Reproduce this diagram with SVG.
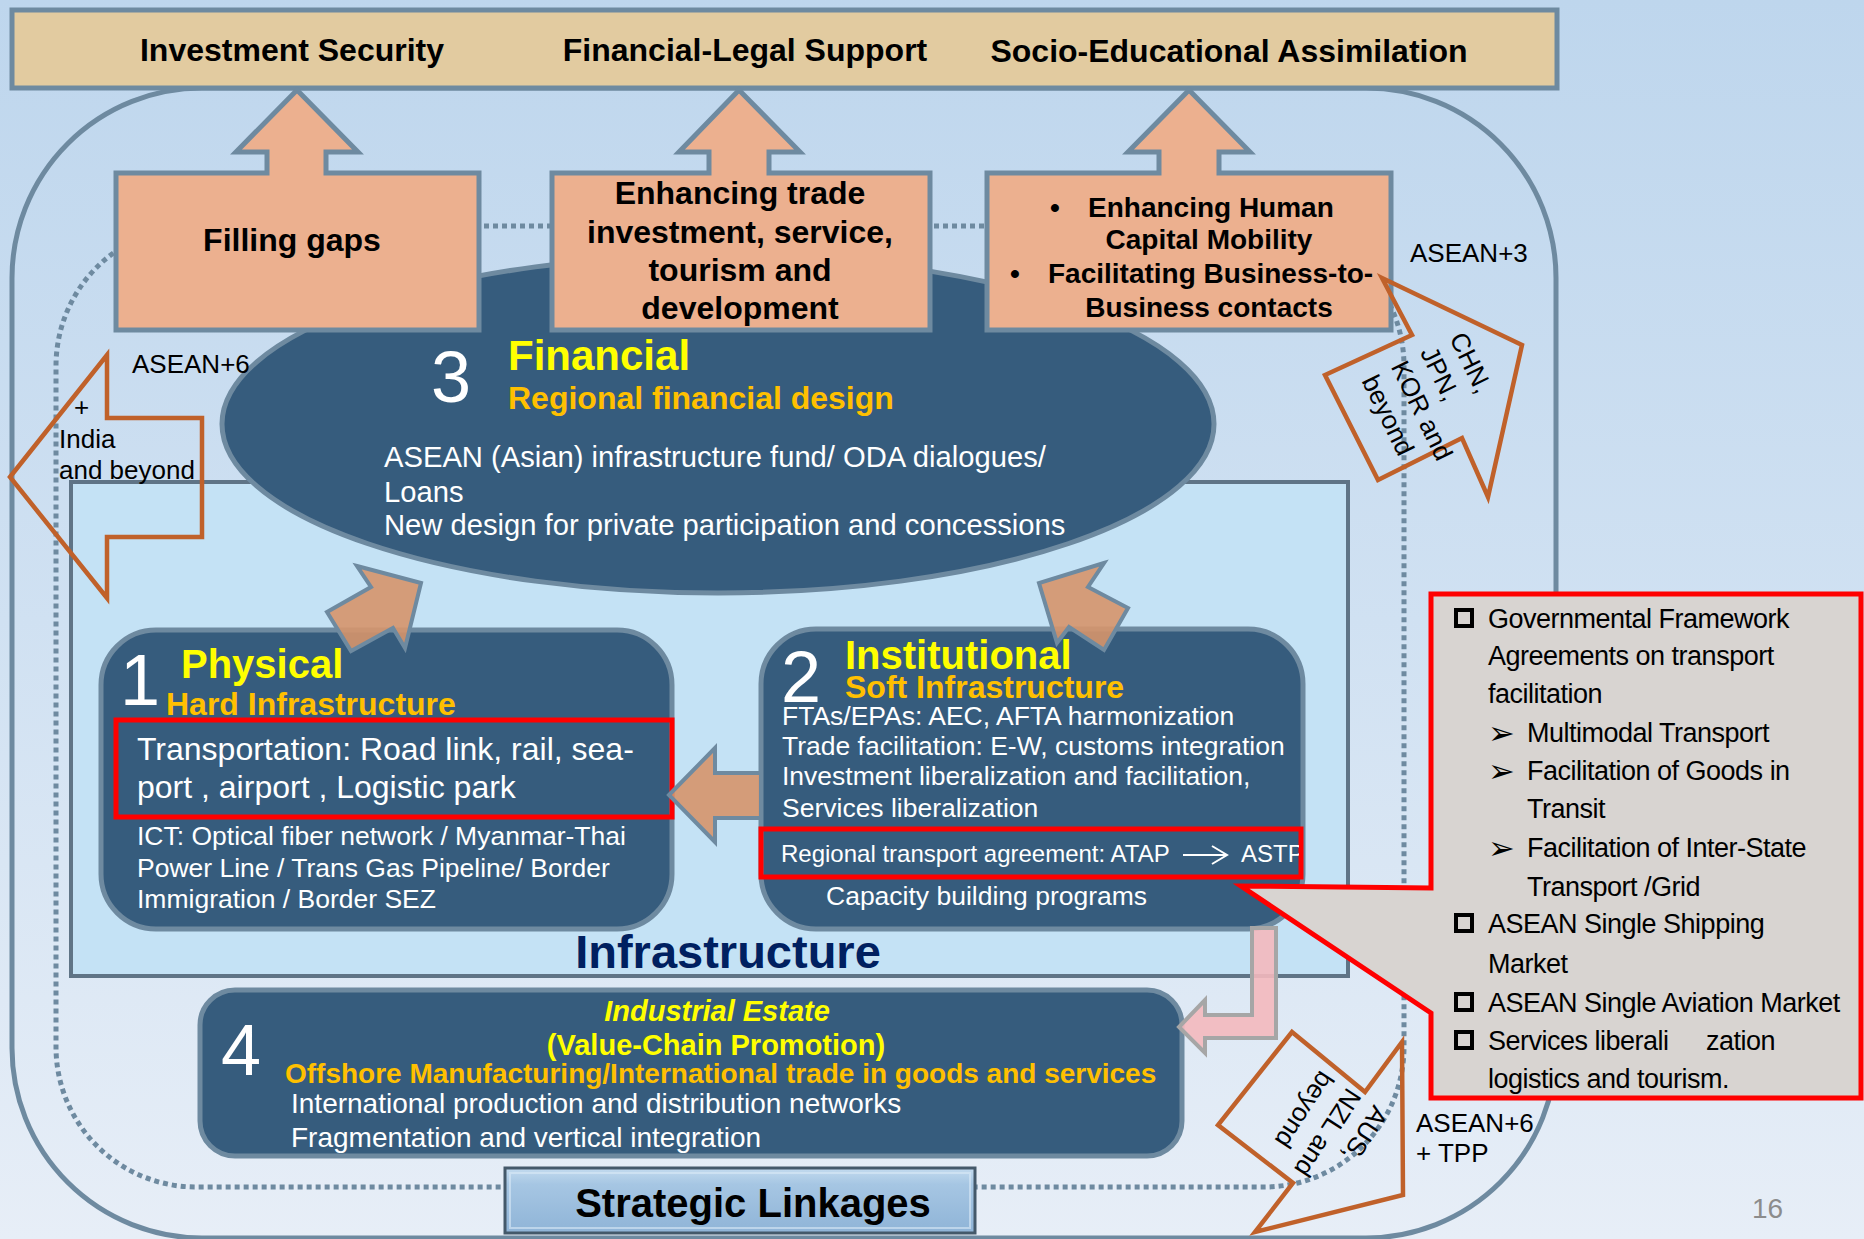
<svg xmlns="http://www.w3.org/2000/svg" width="1864" height="1239" viewBox="0 0 1864 1239">
<defs>
<linearGradient id="bg" x1="0" y1="0" x2="0" y2="1">
<stop offset="0" stop-color="#bed6ed"/>
<stop offset="0.5" stop-color="#d0e1f2"/>
<stop offset="1" stop-color="#e7eef7"/>
</linearGradient>
<linearGradient id="sl" x1="0" y1="0" x2="0" y2="1">
<stop offset="0" stop-color="#c3dbef"/>
<stop offset="0.25" stop-color="#a6c6e3"/>
<stop offset="1" stop-color="#8fb4d7"/>
</linearGradient>
<clipPath id="clipAstp"><rect x="763" y="831" width="536" height="44"/></clipPath>
<style>
.t{font-family:"Liberation Sans",Arial,sans-serif}
.b{font-weight:bold}
.w{fill:#ffffff}
.y{fill:#ffff00}
.o{fill:#ffc000}
.k{fill:#000000}
.m{text-anchor:middle}
.dk{fill:#365c7d;stroke:#6e8aa0;stroke-width:5}
.sal{fill:#ecb08f;stroke:#6e8aa0;stroke-width:5;stroke-linejoin:miter}
.oa{fill:#d6956b;fill-opacity:0.9;stroke:#6e8aa0;stroke-width:4}
.ol{fill:none;stroke:#c0612a;stroke-width:4.5}
.red{fill:none;stroke:#ff0000;stroke-width:5}
.cb{fill:none;stroke:#000000;stroke-width:4}
.cl{font-family:"Liberation Sans",Arial,sans-serif;font-size:27px;letter-spacing:-0.5px;fill:#000000}
.ar{font-family:"DejaVu Sans",sans-serif;font-size:32px;fill:#000000}
</style>
</defs>

<rect x="0" y="0" width="1864" height="1239" fill="url(#bg)"/>

<g id="frame">
<rect x="12" y="88" width="1544" height="1150" rx="190" ry="190" fill="none" stroke="#6e8aa0" stroke-width="5"/>
<rect x="56" y="226" width="1348" height="961" rx="140" ry="140" fill="none" stroke="#6e8aa0" stroke-width="5" stroke-dasharray="5 4"/>
</g>

<g id="infrastructure">
<rect x="71" y="482" width="1277" height="494" fill="#c4e2f5" stroke="#5f7486" stroke-width="4"/>
<text class="t b m" x="728" y="968" font-size="47" fill="#002060">Infrastructure</text>
</g>

<g id="financial">
<ellipse cx="718" cy="424" rx="496" ry="169" class="dk"/>
<text class="t w" x="431" y="402" font-size="72">3</text>
<text class="t b y" x="508" y="370" font-size="42">Financial</text>
<text class="t b o" x="508" y="409" font-size="32">Regional financial design</text>
<text class="t w" font-size="29.2"><tspan x="384" y="467">ASEAN (Asian) infrastructure fund/ ODA dialogues/</tspan><tspan x="384" y="502">Loans</tspan><tspan x="384" y="535">New design for private participation and concessions</tspan></text>
</g>

<g id="banner">
<rect x="12" y="10" width="1545" height="78" fill="#e2cba0" stroke="#6e8aa0" stroke-width="5"/>
<text class="t b k m" x="292" y="61" font-size="32">Investment Security</text>
<text class="t b k m" x="745" y="61" font-size="32">Financial-Legal Support</text>
<text class="t b k m" x="1229" y="62" font-size="32">Socio-Educational Assimilation</text>
</g>

<g id="filling-gaps">
<polygon class="sal" points="116,173 267,173 267,152 236,152 297,90 358,152 326,152 326,173 479,173 479,330 116,330"/>
<text class="t b k m" x="292" y="251" font-size="32">Filling gaps</text>
</g>

<g id="enhancing-trade">
<polygon class="sal" points="552,173 709,173 709,152 679,152 739,90 800,152 769,152 769,173 930,173 930,330 552,330"/>
<text class="t b k m" font-size="32"><tspan x="740" y="204">Enhancing trade</tspan><tspan x="740" y="243">investment, service,</tspan><tspan x="740" y="281">tourism and</tspan><tspan x="740" y="319">development</tspan></text>
</g>

<g id="human-capital">
<polygon class="sal" points="987,173 1159,173 1159,152 1128,152 1189,90 1250,152 1219,152 1219,173 1391,173 1391,330 987,330"/>
<text class="t b k" font-size="28"><tspan x="1050" y="217">•</tspan><tspan x="1088" y="217">Enhancing Human</tspan><tspan x="1209" y="249" text-anchor="middle">Capital Mobility</tspan><tspan x="1010" y="283">•</tspan><tspan x="1048" y="283">Facilitating Business-to-</tspan><tspan x="1209" y="317" text-anchor="middle">Business contacts</tspan></text>
</g>

<g id="physical">
<rect x="101" y="630" width="571" height="299" rx="55" ry="55" class="dk"/>
<text class="t w" x="120" y="705" font-size="72">1</text>
<text class="t b y" x="181" y="678" font-size="40">Physical</text>
<text class="t b o" x="166" y="715" font-size="32">Hard Infrastructure</text>
<rect x="116" y="720" width="556" height="97" class="red"/>
<text class="t w" font-size="32"><tspan x="137" y="760">Transportation: Road link, rail, sea-</tspan><tspan x="137" y="798">port , airport , Logistic park</tspan></text>
<text class="t w" font-size="26.5"><tspan x="137" y="845">ICT: Optical fiber network / Myanmar-Thai</tspan><tspan x="137" y="877">Power Line / Trans Gas Pipeline/ Border</tspan><tspan x="137" y="908">Immigration / Border SEZ</tspan></text>
</g>

<g id="institutional">
<rect x="761" y="629" width="542" height="300" rx="55" ry="55" class="dk"/>
<text class="t w" x="781" y="702" font-size="72">2</text>
<text class="t b y" x="845" y="669" font-size="40">Institutional</text>
<text class="t b o" x="845" y="698" font-size="32">Soft Infrastructure</text>
<text class="t w" font-size="26.5"><tspan x="782" y="725">FTAs/EPAs: AEC, AFTA harmonization</tspan><tspan x="782" y="755">Trade facilitation: E-W, customs integration</tspan><tspan x="782" y="785">Investment liberalization and facilitation,</tspan><tspan x="782" y="817">Services liberalization</tspan></text>
<rect x="761" y="829" width="540" height="48" class="red"/>
<g clip-path="url(#clipAstp)">
<text class="t w" x="781" y="862" font-size="24">Regional transport agreement: ATAP</text>
<path d="M1183 855 H1226 M1212 846 L1227 855 L1212 864" fill="none" stroke="#ffffff" stroke-width="2"/>
<text class="t w" x="1241" y="862" font-size="24">ASTP</text>
</g>
<text class="t w" x="826" y="905" font-size="26.5">Capacity building programs</text>
</g>

<g id="industrial-estate">
<rect x="200" y="990" width="982" height="166" rx="35" ry="35" class="dk"/>
<text class="t w" x="221" y="1075" font-size="72">4</text>
<text class="t b y m" x="717" y="1021" font-size="29" font-style="italic">Industrial Estate</text>
<text class="t b y m" x="716" y="1055" font-size="29">(Value-Chain Promotion)</text>
<text class="t b o" x="285" y="1083" font-size="28">Offshore Manufacturing/International trade in goods and services</text>
<text class="t w" font-size="28"><tspan x="291" y="1113">International production and distribution networks</tspan><tspan x="291" y="1147">Fragmentation and vertical integration</tspan></text>
</g>

<g id="connectors">
<polygon class="oa" points="357,566 421,583 405,648 393,628 351,651 327,612 371,587"/>
<polygon class="oa" points="1104,563 1039,583 1057,643 1069,627 1104,650 1128,608 1088,587"/>
<polygon class="oa" points="669,795 715,748 715,773 761,773 761,818 715,818 715,842"/>
<polygon points="1252,928 1276,928 1276,1038 1205,1038 1205,1053 1179,1027 1205,1000 1205,1015 1252,1015" fill="#f4b9be" fill-opacity="0.9" stroke="#a6a6a6" stroke-width="4"/>
</g>

<g id="india-arrow">
<polygon class="ol" points="10,477 107,355 107,418 202,418 202,537 107,537 107,598"/>
<text class="t k" x="132" y="373" font-size="26">ASEAN+6</text>
<text class="t k" font-size="26"><tspan x="74" y="416">+</tspan><tspan x="59" y="448">India</tspan><tspan x="59" y="479">and beyond</tspan></text>
</g>

<g id="chn-arrow">
<polygon class="ol" points="1382,278 1522,345 1488,497 1462,438 1378,480 1325,375 1412,335"/>
<text class="t k" x="1410" y="262" font-size="26">ASEAN+3</text>
<g transform="translate(1449,338) rotate(64)">
<text class="t k" font-size="26"><tspan x="0" y="0">CHN,</tspan><tspan x="0" y="32.5">JPN,</tspan><tspan x="0" y="65">KOR and</tspan><tspan x="0" y="97.5">beyond</tspan></text>
</g>
</g>

<g id="aus-arrow">
<polygon class="ol" points="1292,1032 1365,1092 1402,1042 1403,1195 1255,1232 1293,1183 1218,1125"/>
<text class="t k" font-size="26"><tspan x="1416" y="1132">ASEAN+6</tspan><tspan x="1416" y="1162">+ TPP</tspan></text>
<g transform="translate(1374,1104) rotate(123)">
<text class="t k" font-size="26"><tspan x="0" y="0">AUS,</tspan><tspan x="0" y="32">NZL and</tspan><tspan x="0" y="64">beyond</tspan></text>
</g>
</g>

<g id="callout">
<polygon points="1431,594 1861,594 1861,1098 1431,1098 1431,1013 1241,886 1431,888" fill="#d8d4d1" stroke="#ff0000" stroke-width="5"/>
<rect x="1456" y="610" width="16" height="16" class="cb"/>
<text class="cl" x="1488" y="628">Governmental Framework</text>
<text class="cl" x="1488" y="665">Agreements on transport</text>
<text class="cl" x="1488" y="703">facilitation</text>
<text class="ar" x="1488" y="744">➢</text>
<text class="cl" x="1527" y="742">Multimodal Transport</text>
<text class="ar" x="1488" y="782">➢</text>
<text class="cl" x="1527" y="780">Facilitation of Goods in</text>
<text class="cl" x="1527" y="818">Transit</text>
<text class="ar" x="1488" y="859">➢</text>
<text class="cl" x="1527" y="857">Facilitation of Inter-State</text>
<text class="cl" x="1527" y="896">Transport /Grid</text>
<rect x="1456" y="915" width="16" height="16" class="cb"/>
<text class="cl" x="1488" y="933">ASEAN Single Shipping</text>
<text class="cl" x="1488" y="973">Market</text>
<rect x="1456" y="994" width="16" height="16" class="cb"/>
<text class="cl" x="1488" y="1012">ASEAN Single Aviation Market</text>
<rect x="1456" y="1032" width="16" height="16" class="cb"/>
<text class="cl"><tspan x="1488" y="1050">Services liberali</tspan><tspan x="1706" y="1050">zation</tspan></text>
<text class="cl" x="1488" y="1088">logistics and tourism.</text>
</g>

<g id="strategic-linkages">
<rect x="505" y="1168" width="470" height="65" fill="url(#sl)" stroke="#44596a" stroke-width="3"/>
<rect x="510" y="1173" width="460" height="55" fill="none" stroke="#dbeaf6" stroke-width="2" stroke-opacity="0.6"/>
<text class="t b k m" x="753" y="1217" font-size="40">Strategic Linkages</text>
</g>

<text class="t" x="1752" y="1218" font-size="28" fill="#8c8c8c">16</text>
</svg>
